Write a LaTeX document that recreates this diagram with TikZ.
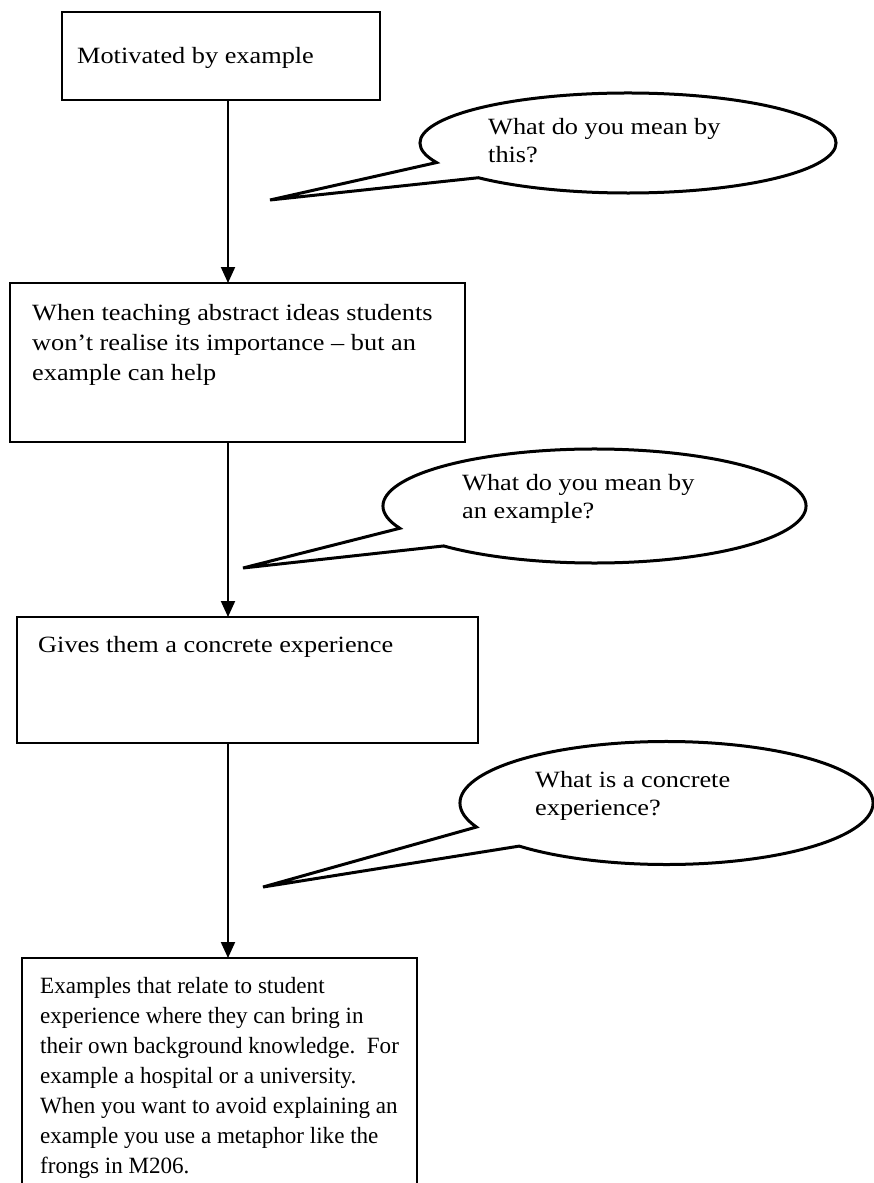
\documentclass[tikz,border=0pt]{standalone}
\usepackage{fontspec}
\usepackage{graphicx}
\setmainfont{Liberation Serif}
\usetikzlibrary{arrows.meta,calc}
% a left-aligned block of lines, baseline on its last line, widened by #1
\newcommand{\stretchtext}[2]{\scalebox{#1}[1]{\begin{tabular}[b]{@{}l@{}}#2\end{tabular}}}
\begin{document}
\begin{tikzpicture}[x=1pt,y=-1pt,
  boxline/.style={draw=black,line width=2.2pt},
  txt/.style={anchor=base west,inner sep=0pt,
    font=\fontsize{23.3}{30}\selectfont},
  qtxt/.style={anchor=base west,inner sep=0pt,
    font=\fontsize{23.3}{28}\selectfont},
  flow/.style={line width=2pt,-{Triangle[length=16pt,width=14pt]}},
  bubble/.style={draw=black,line width=3pt,line join=miter}]
\useasboundingbox (0,0) rectangle (874,1183);
\fill[white] (0,0) rectangle (874,1183);

% the four steps of the chain
\draw[boxline] (62,12) rectangle (380,100);
\draw[boxline] (10,283) rectangle (465,442);
\draw[boxline] (17,617) rectangle (478,743);
\draw[boxline] (22,958) rectangle (417,1200);

\coordinate (b1s) at (228,100);
\coordinate (b2n) at (228,283);
\coordinate (b2s) at (228,442);
\coordinate (b3n) at (228,617);
\coordinate (b3s) at (228,743);
\coordinate (b4n) at (228,958);

% multi-line texts are placed by the baseline of their last line
\node[txt] (t1) at (77,63) {\stretchtext{1.129}{Motivated by example}};
\node[txt] (t2) at (32,380) {\stretchtext{1.129}{When teaching abstract ideas students\\
  won’t realise its importance – but an\\ example can help}};
\node[txt] (t3) at (38,652) {\stretchtext{1.129}{Gives them a concrete experience}};
\node[txt] (t4) at (40,1173) {\stretchtext{0.99}{Examples that relate to student\\
  experience where they can bring in\\
  their own background knowledge.\ \ For\\
  example a hospital or a university.\\
  When you want to avoid explaining an\\
  example you use a metaphor like the\\
  frongs in M206.}};

\draw[flow] (b1s) -- (b2n);
\draw[flow] (b2s) -- (b3n);
\draw[flow] (b3s) -- (b4n);

% speech bubbles with their tails
\coordinate (tip1) at (270,200);
\draw[bubble] (tip1) -- ($(628,143)+(157:208 and 50)$)
  arc[start angle=157,end angle=496,x radius=208,y radius=50] -- cycle;
\node[qtxt] (q1) at (488,162) {\stretchtext{1.129}{What do you mean by\\ this?}};

\coordinate (tip2) at (243,568);
\draw[bubble] (tip2) -- ($(594.5,506)+(157:211.5 and 57)$)
  arc[start angle=157,end angle=495.5,x radius=211.5,y radius=57] -- cycle;
\node[qtxt] (q2) at (462,518) {\stretchtext{1.129}{What do you mean by\\ an example?}};

\coordinate (tip3) at (263,887);
\draw[bubble] (tip3) -- ($(666.5,803)+(157:206.5 and 61.5)$)
  arc[start angle=157,end angle=495.5,x radius=206.5,y radius=61.5] -- cycle;
\node[qtxt] (q3) at (535,815) {\stretchtext{1.129}{What is a concrete\\ experience?}};
\end{tikzpicture}
\end{document}
